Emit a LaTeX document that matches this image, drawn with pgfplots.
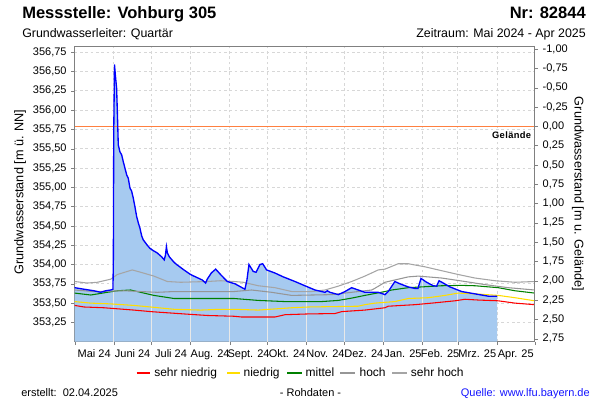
\documentclass[border=0pt]{standalone}
\usepackage{fontspec}
\setmainfont{Liberation Sans}
\newfontfamily\gelfont[LetterSpace=4]{Liberation Sans}
\usepackage{pgfplots}
\pgfplotsset{compat=1.18}
\definecolor{fillblue}{RGB}{166,202,240}
\definecolor{lineblue}{RGB}{0,0,255}
\definecolor{axisgray}{RGB}{128,128,128}
\definecolor{gridgray}{RGB}{215,215,215}
\definecolor{cred}{RGB}{255,0,0}
\definecolor{cyellow}{RGB}{255,221,0}
\definecolor{cgreen}{RGB}{0,128,0}
\definecolor{choch}{RGB}{150,150,150}
\definecolor{csehrhoch}{RGB}{165,165,165}
\definecolor{corange}{RGB}{255,128,64}
\definecolor{monthline}{RGB}{232,232,232}
\definecolor{quelleblue}{RGB}{20,20,255}
\begin{document}
\begin{tikzpicture}[x=1pt,y=1pt]
\path[use as bounding box] (0,0) rectangle (450,300);
\begin{axis}[
  at={(56pt,43.7pt)}, anchor=south west,
  width=345pt, height=221.8pt, scale only axis,
  xmin=0, xmax=365, ymin=353.0, ymax=356.83,
  axis line style={draw=axisgray},
  tick style={draw=axisgray},
  tick align=outside, major tick length=2.5pt, minor tick length=2.5pt,
  xtick pos=bottom, ytick pos=left,
  xtick={15.5,46,76.5,107.5,138,168.5,199,229.5,260.5,290,319.5,350},
  xticklabels={Mai 24,Juni 24,Juli 24,Aug. 24,Sept. 24,Okt. 24,Nov. 24,Dez. 24,Jan. 25,Feb. 25,Mrz. 25,Apr. 25},
  xtick style={draw=none},
  minor xtick={0,31,61,92,123,153,184,214,245,276,304,335,365},
  minor x tick style={draw=axisgray},
  xmajorgrids=false, xminorgrids=true, ymajorgrids=true,
  ytick={353.25,353.5,353.75,354,354.25,354.5,354.75,355,355.25,355.5,355.75,356,356.25,356.5,356.75},
  yticklabel style={/pgf/number format/.cd, fixed, fixed zerofill, precision=2, use comma, 1000 sep={}},
  /pgf/number format/assume math mode=true,
  ticklabel style={font=\fontsize{8.25}{10}\selectfont},
  grid style={draw=gridgray, dash pattern=on 2pt off 2pt, line width=0.5pt},
  minor grid style={draw=gridgray, dash pattern=on 2pt off 2pt, line width=0.5pt},
]
\pgfplotstableread{
x y
0 353.70
7.4 353.68
15.3 353.66
20.6 353.64
24.6 353.66
28.6 353.67
30.4 353.68
30.7 354.08
31.0 355.7
31.6 356.59
32.3 356.45
33.3 356.28
34.1 355.85
34.6 355.55
35.9 355.46
37.3 355.42
38.6 355.33
41.3 355.16
42.5 355.12
43.9 354.99
45.2 354.95
46.5 354.86
47.8 354.75
49.2 354.62
50.5 354.54
51.8 354.47
53.2 354.37
54.4 354.32
55.8 354.29
57.1 354.26
59.7 354.21
62.4 354.18
65.5 354.15
69.0 354.10
71.1 354.06
72.0 354.12
72.8 354.23
73.6 354.15
75.1 354.10
78.8 354.03
80.9 354.00
86.7 353.93
92.0 353.87
101.2 353.80
103.9 353.76
105.2 353.81
108.4 353.89
111.9 353.94
115.8 353.87
121.1 353.78
127.2 353.75
135.1 353.68
136.7 353.80
138.3 354.00
141.7 353.91
143.9 353.90
147.0 354.00
149.2 354.01
152.3 353.93
158.9 353.89
165.5 353.84
174.8 353.78
182.7 353.725
190.7 353.67
198.6 353.64
200.5 353.66
202.6 353.64
209.2 353.61
214.5 353.65
219.8 353.70
225.0 353.67
230.3 353.64
240.9 353.64
246.2 353.61
248.8 353.65
254.1 353.78
258.1 353.75
264.7 353.71
270.0 353.69
272.4 353.69
274.8 353.82
279.3 353.77
284.5 353.725
287.2 353.72
289.1 353.79
292.5 353.76
297.8 353.71
307.1 353.65
317.6 353.62
328.2 353.59
335.3 353.59
}\blue
\addplot[draw=none, fill=fillblue] table {\blue} \closedcycle;
\addplot[ycomb, draw=monthline, line width=0.75pt] coordinates {
(31,355.75) (61,354.18) (92,353.86) (123,353.76) (153,353.915) (184,353.705) (214,353.635) (245,353.607) (276,353.797) (304,353.66)};
\addplot[corange, line width=0.8pt] coordinates {(0,355.79) (365,355.79)};
\addplot[cred, line width=0.8pt] coordinates {
(0,353.47) (7.4,353.45) (23.2,353.44) (47,353.41) (60.3,353.39) (86.7,353.36) (105.2,353.34) (126.4,353.33) (132.5,353.32) (158.9,353.32) (166.9,353.35) (185.1,353.36) (206.5,353.365) (211.9,353.39) (230.3,353.41) (246.2,353.44) (248.8,353.46) (270,353.48) (283.3,353.50) (301.7,353.53) (309.7,353.55) (320.2,353.54) (336.1,353.53) (349.4,353.50) (365,353.48)};
\addplot[cyellow, line width=0.8pt] coordinates {
(0,353.52) (12.8,353.50) (28.6,353.49) (47,353.47) (60.3,353.45) (78.8,353.42) (100,353.41) (115.8,353.42) (126.4,353.42) (145.7,353.41) (172.2,353.44) (185.4,353.45) (225,353.46) (230.3,353.48) (238.3,353.50) (246.2,353.51) (254.1,353.52) (264.7,353.56) (280.5,353.57) (293.8,353.60) (304.3,353.63) (317.6,353.62) (336.1,353.60) (349.4,353.57) (365,353.53)};
\addplot[cgreen, line width=0.8pt] coordinates {
(0,353.63) (12.8,353.605) (25.9,353.64) (33.8,353.66) (44.4,353.67) (52.3,353.64) (62.9,353.60) (78.8,353.56) (126.4,353.56) (145.7,353.535) (166.9,353.52) (195.9,353.52) (209.2,353.535) (219.8,353.565) (230.3,353.60) (246.2,353.65) (251.6,353.67) (264.7,353.70) (291.2,353.725) (307.1,353.73) (317.6,353.725) (336.1,353.70) (349.4,353.66) (365,353.63)};
\addplot[choch, line width=0.8pt] coordinates {
(0,353.67) (15.3,353.65) (39.1,353.66) (65.5,353.64) (78.8,353.65) (126.4,353.65) (140.4,353.67) (156.3,353.64) (172.2,353.60) (203.9,353.61) (225,353.65) (235.7,353.67) (238,353.69) (246.2,353.77) (254.1,353.80) (264.7,353.84) (272.7,353.85) (291.2,353.825) (309.7,353.78) (325.5,353.74) (344,353.70) (365,353.67)};
\addplot[csehrhoch, line width=0.8pt] coordinates {
(0,353.78) (10,353.76) (18,353.77) (28.6,353.81) (33.8,353.87) (45.7,353.93) (52.3,353.90) (62.9,353.85) (73.5,353.78) (84.1,353.77) (105.2,353.78) (115.8,353.79) (126.4,353.78) (133.8,353.77) (145.7,353.725) (158.9,353.70) (172.2,353.65) (188.1,353.65) (198.6,353.67) (209.2,353.72) (219.8,353.78) (230.3,353.85) (240.9,353.93) (246.2,353.94) (256.7,354.01) (264.7,354.01) (278,353.97) (291.2,353.92) (304.5,353.87) (317.6,353.825) (333.5,353.79) (349.4,353.77) (365,353.78)};
\addplot[lineblue, line width=1pt] table {\blue};
\node[anchor=north east, inner sep=1pt, font=\gelfont\bfseries\fontsize{7}{8}\selectfont] at (axis cs:363.5,355.745) {Gelände};
\end{axis}
\begin{axis}[
  at={(56pt,43.7pt)}, anchor=south west,
  width=345pt, height=221.8pt, scale only axis,
  xmin=0, xmax=365, ymin=-1.04, ymax=2.79, y dir=reverse,
  hide x axis, axis y line*=right,
  axis line style={draw=axisgray},
  tick style={draw=axisgray},
  tick align=outside, major tick length=2.5pt,
  ytick={-1,-0.75,-0.5,-0.25,0,0.25,0.5,0.75,1,1.25,1.5,1.75,2,2.25,2.5,2.75},
  yticklabel style={/pgf/number format/.cd, fixed, fixed zerofill, precision=2, use comma, 1000 sep={}},
  /pgf/number format/assume math mode=true,
  ticklabel style={font=\fontsize{8.25}{10}\selectfont},
]
\addplot[draw=none] coordinates {(0,0) (365,1)};
\end{axis}
% legend
\begin{scope}[font=\fontsize{9}{11}\selectfont]
\draw[cred, line width=1.1pt] (102.4,20.2) -- (112.5,20.2);
\node[anchor=base west, inner sep=0pt] at (115.5,17.6) {sehr niedrig};
\draw[cyellow, line width=1.1pt] (170.3,20.2) -- (180.3,20.2);
\node[anchor=base west, inner sep=0pt] at (182.5,17.6) {niedrig};
\draw[cgreen, line width=1.1pt] (215.5,20.2) -- (226.3,20.2);
\node[anchor=base west, inner sep=0pt] at (229,17.6) {mittel};
\draw[choch, line width=1.1pt] (255,20.2) -- (266.3,20.2);
\node[anchor=base west, inner sep=0pt] at (269.5,17.6) {hoch};
\draw[csehrhoch, line width=1.1pt] (294.3,20.2) -- (305,20.2);
\node[anchor=base west, inner sep=0pt] at (308,17.6) {sehr hoch};
\end{scope}
\node[anchor=base west, inner sep=0pt, font=\bfseries\fontsize{12.4}{14}\selectfont] at (16.5,285.75) {Messstelle: Vohburg 305};
\node[anchor=base east, inner sep=0pt, font=\bfseries\fontsize{12.4}{14}\selectfont] at (439.5,285.75) {Nr: 82844};
\node[anchor=base west, inner sep=0pt, font=\fontsize{9.3}{11}\selectfont] at (16.5,272.0) {Grundwasserleiter: Quartär};
\node[anchor=base east, inner sep=0pt, font=\fontsize{9.3}{11}\selectfont] at (439.5,272.0) {Zeitraum: Mai 2024 - Apr 2025};
\node[rotate=90, font=\fontsize{9.5}{11}\selectfont] at (15,156) {Grundwasserstand [m ü. NN]};
\node[rotate=-90, font=\fontsize{9.5}{11}\selectfont] at (433.5,154.5) {Grundwasserstand [m u. Gelände]};
\node[anchor=base west, font=\fontsize{8.25}{10}\selectfont, inner sep=0pt] at (15.75,2.8) {erstellt:\ \ 02.04.2025};
\node[anchor=base, font=\fontsize{8.25}{10}\selectfont, inner sep=0pt] at (232.9,2.8) {- Rohdaten -};
\node[anchor=base east, font=\fontsize{8.25}{10}\selectfont, inner sep=0pt, text=quelleblue] at (442.5,2.8) {Quelle: www.lfu.bayern.de};
\end{tikzpicture}
\end{document}
